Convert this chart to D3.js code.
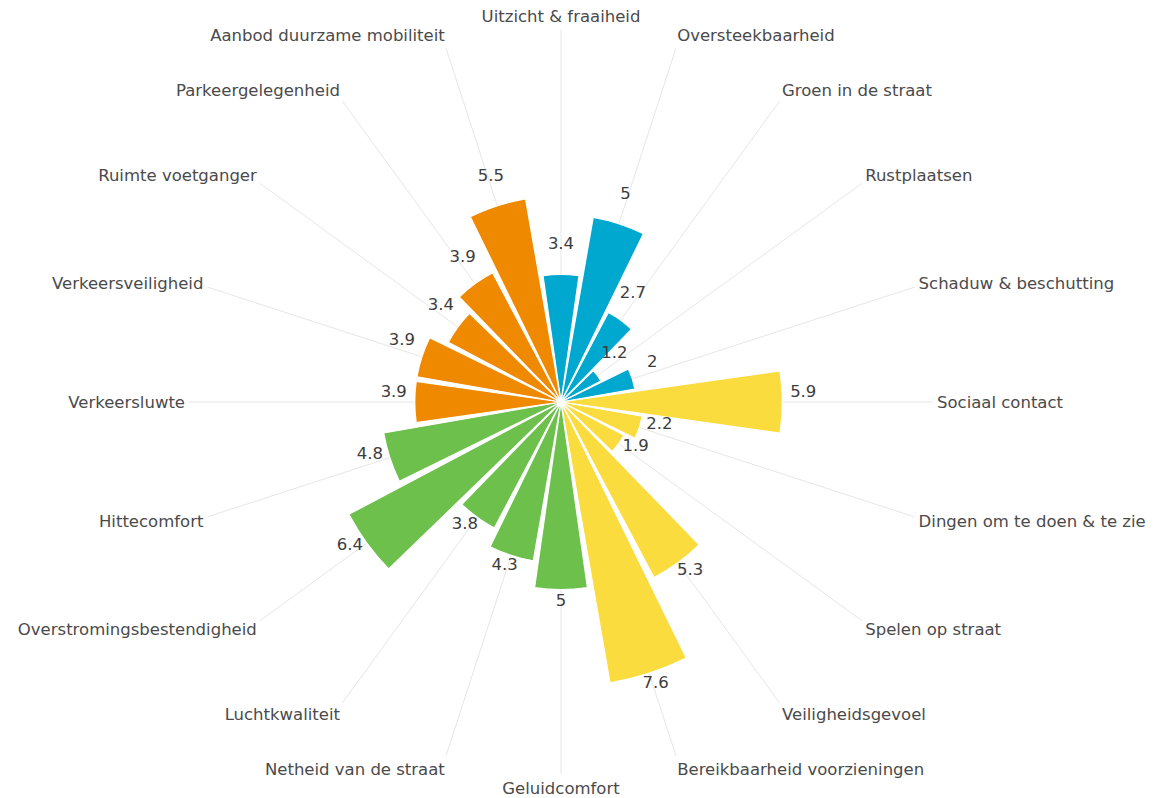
<!DOCTYPE html>
<html>
<head>
<meta charset="utf-8">
<script src="https://cdn.jsdelivr.net/npm/d3@7/dist/d3.min.js"></script>
<style>
  body { margin: 0; background: #fff; }
  .axis-line { stroke: #e6e6e6; stroke-width: 1; fill: none; }
  .cat-label { font-family: "DejaVu Sans", Verdana, sans-serif; font-size: 16.5px; fill: #4a4a4a; }
  .val-label { font-family: "DejaVu Sans", Verdana, sans-serif; font-size: 16.5px; fill: #3d3d3d; }
  .bar { stroke: #fff; stroke-width: 1.2; }
</style>
</head>
<body>
<svg id="chart"></svg>
<script>
// categories clockwise, starting at the top
var categories = [
  "Uitzicht & fraaiheid", "Oversteekbaarheid", "Groen in de straat", "Rustplaatsen",
  "Schaduw & beschutting", "Sociaal contact", "Dingen om te doen & te zie", "Spelen op straat",
  "Veiligheidsgevoel", "Bereikbaarheid voorzieningen", "Geluidcomfort", "Netheid van de straat",
  "Luchtkwaliteit", "Overstromingsbestendigheid", "Hittecomfort", "Verkeersluwte",
  "Verkeersveiligheid", "Ruimte voetganger", "Parkeergelegenheid", "Aanbod duurzame mobiliteit"
];
var values = [3.4, 5, 2.7, 1.2, 2, 5.9, 2.2, 1.9, 5.3, 7.6, 5, 4.3, 3.8, 6.4, 4.8, 3.9, 3.9, 3.4, 3.9, 5.5];
var groups = ["g1", "g1", "g1", "g1", "g1", "g2", "g2", "g2", "g2", "g2",
              "g3", "g3", "g3", "g3", "g3", "g4", "g4", "g4", "g4", "g4"];
var groupNames = ["g1", "g2", "g3", "g4"];
var maxValue = 8;

var width = 1165, height = 798;
var cx = 561, cy = 402;
var barRadius = 300, axisRadius = 372, labelRadius = 376;

var svg = d3.select("#chart").attr("width", width).attr("height", height);
var g = svg.append("g").attr("transform", "translate(" + cx + "," + cy + ")");

var step = 2 * Math.PI / categories.length;
var angle = d3.scaleBand()
  .domain(categories)
  .range([-step / 2, 2 * Math.PI - step / 2])
  .paddingInner(0.1)
  .paddingOuter(0.05);
var r = d3.scaleLinear().domain([0, maxValue]).range([0, barRadius]);
var color = d3.scaleOrdinal()
  .domain(groupNames)
  .range(["#00a8cf", "#fadc3e", "#6cc04b", "#ef8a00"]);

var data = categories.map(function(c, i) {
  return {name: c, value: values[i], group: groups[i]};
});

function mid(name) { return angle(name) + angle.bandwidth() / 2; }

// spokes
g.append("g")
  .selectAll("line")
  .data(categories)
  .enter().append("line")
    .attr("class", "axis-line")
    .attr("x1", 0).attr("y1", 0)
    .attr("x2", function(d) { return axisRadius * Math.sin(mid(d)); })
    .attr("y2", function(d) { return -axisRadius * Math.cos(mid(d)); });

// bars
var arc = d3.arc()
  .innerRadius(0)
  .outerRadius(function(d) { return r(d.value); })
  .startAngle(function(d) { return angle(d.name); })
  .endAngle(function(d) { return angle(d.name) + angle.bandwidth(); });

g.append("g")
  .selectAll("path")
  .data(data)
  .enter().append("path")
    .attr("class", "bar")
    .attr("d", arc)
    .style("fill", function(d) { return color(d.group); });

// category labels
g.append("g")
  .selectAll("text")
  .data(categories)
  .enter().append("text")
    .attr("class", "cat-label")
    .attr("x", function(d) { return labelRadius * Math.sin(mid(d)); })
    .attr("y", function(d) { return -labelRadius * Math.cos(mid(d)) - 10 * Math.cos(mid(d)); })
    .attr("dy", "0.35em")
    .attr("text-anchor", function(d) {
      var s = Math.sin(mid(d));
      if (Math.abs(s) < 0.05) return "middle";
      return s > 0 ? "start" : "end";
    })
    .text(function(d) { return d; });

// value labels
g.append("g")
  .selectAll("text")
  .data(data)
  .enter().append("text")
    .attr("class", "val-label")
    .attr("text-anchor", "middle")
    .attr("x", function(d) { return (r(d.value) + 21) * Math.sin(mid(d.name)); })
    .attr("y", function(d) { return -(r(d.value) + 21) * Math.cos(mid(d.name)) - 5; })
    .text(function(d) { return d.value; });
</script>
</body>
</html>
